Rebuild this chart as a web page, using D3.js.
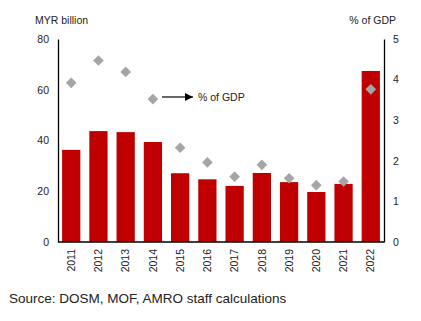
<!DOCTYPE html>
<html>
<head>
<meta charset="utf-8">
<script src="https://cdn.jsdelivr.net/npm/d3@7"></script>
<style>
  body { margin: 0; background: #fff; }
  text { font-family: "Liberation Sans", Arial, sans-serif; fill: #222; }
</style>
</head>
<body>
<svg width="421" height="321"></svg>
<script>
const years = ["2011", "2012", "2013", "2014", "2015", "2016", "2017", "2018", "2019", "2020", "2021", "2022"];
const myrBillion = [36.3, 43.7, 43.3, 39.4, 27.1, 24.7, 22.1, 27.2, 23.6, 19.7, 22.9, 67.4];
const pctGdp = [3.92, 4.47, 4.19, 3.52, 2.32, 1.96, 1.61, 1.90, 1.57, 1.40, 1.49, 3.76];
const leftTicks = [0, 20, 40, 60, 80];
const rightTicks = [0, 1, 2, 3, 4, 5];

const svg = d3.select("svg");
const pLeft = 58, pRight = 384, pTop = 39, pBottom = 242;
const fs = 10.5;

const x = d3.scaleBand().domain(years).range([pLeft, pRight]).paddingInner(0.33).paddingOuter(0.15);
const yL = d3.scaleLinear().domain([0, 80]).range([pBottom, pTop]);
const yR = d3.scaleLinear().domain([0, 5]).range([pBottom, pTop]);

// bars
svg.selectAll("rect.bar")
    .data(years)
    .enter()
    .append("rect")
    .attr("class", "bar")
    .attr("x", d => x(d))
    .attr("width", x.bandwidth())
    .attr("y", (d, i) => yL(myrBillion[i]))
    .attr("height", (d, i) => pBottom - yL(myrBillion[i]))
    .attr("fill", "#c00000");

// diamonds
const sym = d3.symbol().type(d3.symbolDiamond2).size(72);
svg.selectAll("path.pt")
    .data(years)
    .enter()
    .append("path")
    .attr("class", "pt")
    .attr("d", sym)
    .attr("transform", (d, i) => `translate(${x(d) + x.bandwidth() / 2},${yR(pctGdp[i])})`)
    .attr("fill", "#a5a5a5");

// axes
const axL = svg.append("g").attr("transform", `translate(${pLeft},0)`)
    .call(d3.axisLeft(yL).tickValues(leftTicks).tickSize(0).tickPadding(9));
const axR = svg.append("g").attr("transform", `translate(${pRight},0)`)
    .call(d3.axisRight(yR).tickValues(rightTicks).tickFormat(d3.format("d")).tickSize(0).tickPadding(9));
const axB = svg.append("g").attr("transform", `translate(0,${pBottom})`)
    .call(d3.axisBottom(x).tickSize(0).tickSizeOuter(0));

[axL, axR, axB].forEach(g => {
    g.select(".domain").attr("stroke", "#000").attr("stroke-width", 1.3);
    g.selectAll("text").attr("font-size", fs).attr("font-family", "Liberation Sans, Arial, sans-serif").attr("fill", "#222");
});
axB.select(".domain").attr("d", `M${pLeft},0H${pRight}`);

axB.selectAll("text")
    .attr("transform", "rotate(-90)")
    .attr("text-anchor", "end")
    .attr("x", -7)
    .attr("y", 0)
    .attr("dy", "0.35em");

// axis titles
svg.append("text").attr("x", 35).attr("y", 24).attr("font-size", fs).text("MYR billion");
svg.append("text").attr("x", 396).attr("y", 24).attr("font-size", fs).attr("text-anchor", "end").text("% of GDP");

// annotation arrow
svg.append("defs").append("marker")
    .attr("id", "arr")
    .attr("viewBox", "0 0 10 10")
    .attr("refX", 10).attr("refY", 5)
    .attr("markerWidth", 8).attr("markerHeight", 8)
    .attr("markerUnits", "userSpaceOnUse")
    .attr("orient", "auto")
    .append("path").attr("d", "M0,0L10,5L0,10Z").attr("fill", "#000");

svg.append("line")
    .attr("x1", 162).attr("y1", 97).attr("x2", 193).attr("y2", 97)
    .attr("stroke", "#000").attr("stroke-width", 1.2)
    .attr("marker-end", "url(#arr)");
svg.append("text").attr("x", 198).attr("y", 101).attr("font-size", fs).text("% of GDP");

// source
svg.append("text").attr("x", 9).attr("y", 303).attr("font-size", 13.5).text("Source: DOSM, MOF, AMRO staff calculations");
</script>
</body>
</html>
